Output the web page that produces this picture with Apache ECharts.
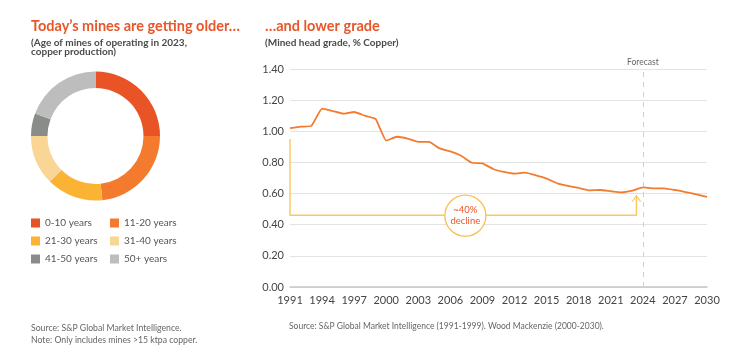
<!DOCTYPE html>
<html>
<head>
<meta charset="utf-8">
<script src="https://cdn.jsdelivr.net/npm/echarts@6/dist/echarts.min.js"></script>
<style>
html,body{margin:0;padding:0;background:#fff}
#main{width:743px;height:353px}
</style>
</head>
<body>
<div id="main"></div>
<script>
// 矿龄分布（环形图）
var ageNames = ['0-10 years', '11-20 years', '21-30 years', '31-40 years', '41-50 years', '50+ years'];
var ageShares = [25, 23.3, 14.2, 12.5, 5.7, 19.3];
var ageColors = ['#E85426', '#F47B2E', '#FBB333', '#F9D596', '#8A8C8A', '#BCBDBC'];

// 品位曲线
var years = [1991, 1992, 1993, 1994, 1995, 1996, 1997, 1998, 1999, 2000,
	2001, 2002, 2003, 2004, 2005, 2006, 2007, 2008, 2009, 2010,
	2011, 2012, 2013, 2014, 2015, 2016, 2017, 2018, 2019, 2020,
	2021, 2022, 2023, 2024, 2025, 2026, 2027, 2028, 2029, 2030];
var grade = [1.02, 1.03, 1.035, 1.145, 1.13, 1.113, 1.124, 1.10, 1.08, 0.94,
	0.965, 0.953, 0.932, 0.932, 0.89, 0.871, 0.843, 0.798, 0.794, 0.758,
	0.739, 0.728, 0.734, 0.717, 0.696, 0.666, 0.649, 0.636, 0.621, 0.623,
	0.615, 0.608, 0.619, 0.640, 0.634, 0.634, 0.623, 0.610, 0.595, 0.578];
var labelYears = [1991, 1994, 1997, 2000, 2003, 2006, 2009, 2012, 2015, 2018, 2021, 2024, 2027, 2030];
var forecastYear = 2024;

// 标注：括号线、箭头、圆圈
var bracketX = [1991, 1991, 2023.4, 2023.4];
var bracketY = [0.95, 0.46, 0.46, 0.585];
var arrowTip = [2023.4, 0.592];
var calloutPos = [2007.4, 0.458];
var calloutText = '~40%\ndecline';

var FONT = 'Lato, "Noto Sans", sans-serif';
var ORANGE = '#E8562A';
var YELLOW = '#FBC866';

var pieData = ageNames.map(function(n, i) {
	return {name: n, value: ageShares[i], itemStyle: {color: ageColors[i]}};
});
var lineData = years.map(function(y, i) { return [y, grade[i]]; });
var bracketData = bracketX.map(function(x, i) { return [x, bracketY[i]]; });

var chart = echarts.init(document.getElementById('main'));
var option = {
	backgroundColor: '#fff',
	textStyle: {fontFamily: FONT},
	animation: false,
	title: [{
		text: 'Today\u2019s mines are getting older\u2026',
		left: 31, top: 19, padding: 0,
		textStyle: {color: ORANGE, fontSize: 14.5, fontWeight: 'bold', fontFamily: FONT}
	}, {
		text: '(Age of mines of operating in 2023,\ncopper production)',
		left: 31, top: 38, padding: 0,
		textStyle: {color: '#4a4a4a', fontSize: 10, lineHeight: 9.5, fontWeight: 'bold', fontFamily: FONT}
	}, {
		text: '\u2026and lower grade',
		left: 265, top: 19, padding: 0,
		textStyle: {color: ORANGE, fontSize: 14.5, fontWeight: 'bold', fontFamily: FONT}
	}, {
		text: '(Mined head grade, % Copper)',
		left: 265, top: 38, padding: 0,
		textStyle: {color: '#4a4a4a', fontSize: 10, fontWeight: 'bold', fontFamily: FONT}
	}],
	legend: [{
		data: ['0-10 years', '21-30 years', '41-50 years'],
		orient: 'vertical', left: 31, top: 217, padding: 0,
		icon: 'rect', itemWidth: 9, itemHeight: 9, itemGap: 6, itemTextGap: 5,
		selectedMode: false,
		textStyle: {color: '#555', fontSize: 10, lineHeight: 12, fontFamily: FONT}
	}, {
		data: ['11-20 years', '31-40 years', '50+ years'],
		orient: 'vertical', left: 110, top: 217, padding: 0,
		icon: 'rect', itemWidth: 9, itemHeight: 9, itemGap: 6, itemTextGap: 5,
		selectedMode: false,
		textStyle: {color: '#555', fontSize: 10, lineHeight: 12, fontFamily: FONT}
	}],
	grid: {left: 290, right: 36, top: 69, bottom: 66},
	xAxis: {
		type: 'value', min: 1991, max: 2030,
		axisLine: {show: true, onZero: false, lineStyle: {color: '#c8c8c8', width: 1.5}},
		axisTick: {show: false},
		splitLine: {show: false},
		axisLabel: {
			customValues: labelYears,
			margin: 8, color: '#444', fontSize: 11, fontFamily: FONT,
			formatter: function(v) { return String(v); }
		}
	},
	yAxis: {
		type: 'value', min: 0, max: 1.4, interval: 0.2,
		axisLine: {show: false},
		axisTick: {show: false},
		splitLine: {lineStyle: {color: '#e3e3e3', width: 1}},
		axisLabel: {
			margin: 6, color: '#444', fontSize: 11, fontFamily: FONT,
			formatter: function(v) { return v.toFixed(2); }
		}
	},
	graphic: [{
		type: 'text', left: 31, top: 322,
		style: {text: 'Source: S&P Global Market Intelligence.\nNote: Only includes mines >15 ktpa copper.',
			fill: '#666', fontSize: 8.7, lineHeight: 12, fontFamily: FONT}
	}, {
		type: 'text', left: 289, top: 322,
		style: {text: 'Source: S&P Global Market Intelligence (1991-1999). Wood Mackenzie (2000-2030).',
			fill: '#666', fontSize: 8.5, fontFamily: FONT}
	}],
	series: [{
		name: 'age',
		type: 'pie',
		center: [95.5, 136],
		radius: [48, 64.5],
		startAngle: 90,
		clockwise: true,
		silent: true,
		label: {show: false},
		labelLine: {show: false},
		data: pieData
	}, {
		name: 'bracket',
		type: 'line',
		data: bracketData,
		showSymbol: false,
		silent: true,
		z: 1,
		lineStyle: {color: YELLOW, width: 1.5}
	}, {
		name: 'arrow',
		type: 'scatter',
		data: [arrowTip],
		symbol: 'path://M0,8 L6,0 L12,8 L10.4,8 L6,2.2 L1.6,8 Z',
		symbolSize: [10, 7],
		symbolOffset: [0, '50%'],
		silent: true,
		itemStyle: {color: YELLOW, opacity: 1}
	}, {
		name: 'grade',
		type: 'line',
		data: lineData,
		showSymbol: false,
		smooth: 0.12,
		z: 3,
		lineStyle: {color: '#F47B2E', width: 1.8},
		markLine: {
			silent: true,
			symbol: 'none',
			lineStyle: {color: '#cfcfcf', type: [5, 5], width: 1},
			label: {show: true, position: 'end', formatter: 'Forecast', color: '#666', fontSize: 8.5, fontFamily: FONT, distance: 2},
			data: [{xAxis: forecastYear}]
		}
	}, {
		name: 'callout',
		type: 'scatter',
		data: [calloutPos],
		symbol: 'circle',
		symbolSize: 41,
		silent: true,
		z: 4,
		itemStyle: {color: '#fff', borderColor: '#FBC04D', borderWidth: 1.3, opacity: 1},
		label: {
			show: true, position: 'inside', formatter: calloutText,
			color: ORANGE, fontSize: 9.5, lineHeight: 10.5, fontFamily: FONT
		}
	}]
};
chart.setOption(option);
</script>
</body>
</html>
